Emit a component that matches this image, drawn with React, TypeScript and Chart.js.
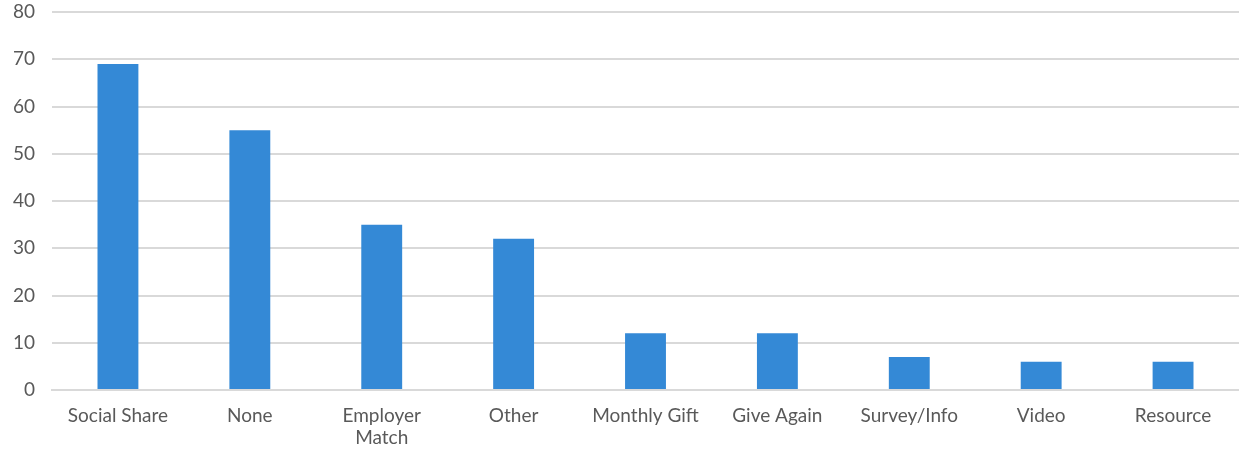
import React, { useEffect, useRef } from "react";
import { Chart, registerables } from "chart.js";

Chart.register(...registerables);

const categories: (string | string[])[] = [
  "Social Share",
  "None",
  ["Employer", "Match"],
  "Other",
  "Monthly Gift",
  "Give Again",
  "Survey/Info",
  "Video",
  "Resource",
];
const values = [69, 55, 35, 32, 12, 12, 7, 6, 6];
const yMin = 0;
const yMax = 80;
const yStep = 10;

export default function App() {
  const ref = useRef<HTMLCanvasElement | null>(null);
  useEffect(() => {
    if (!ref.current) return;
    const chart = new Chart(ref.current, {
      type: "bar",
      data: {
        labels: categories,
        datasets: [
          {
            data: values,
            backgroundColor: "#3489D6",
            borderWidth: 0,
            barPercentage: 0.62,
            categoryPercentage: 0.5,
          },
        ],
      },
      options: {
        responsive: false,
        animation: false,
        maintainAspectRatio: false,
        layout: { padding: { top: 12, right: 0, left: 0, bottom: 0 } },
        plugins: { legend: { display: false }, tooltip: { enabled: false } },
        scales: {
          x: {
            grid: { display: false, drawTicks: false },
            border: { display: true, color: "#d9d9d9", width: 2 },
            ticks: {
              color: "#595959",
              font: { family: "Lato", size: 19 },
              padding: 14,
              maxRotation: 0,
              autoSkip: false,
            },
            afterFit: (s: any) => {
              s.height = 59;
            },
          },
          y: {
            min: yMin,
            max: yMax,
            grid: { color: "#d9d9d9", lineWidth: 2, drawTicks: false },
            border: { display: false },
            ticks: {
              stepSize: yStep,
              color: "#595959",
              font: { family: "Lato", size: 19 },
              padding: 17,
            },
            afterFit: (s: any) => {
              s.width = 52;
              s.paddingTop = 0;
              s.paddingBottom = 0;
            },
          },
        },
      },
    });
    return () => chart.destroy();
  }, []);
  return (
    <div style={{ position: "fixed", left: 0, top: 0, width: 1239, height: 449, background: "#fff" }}>
      <canvas ref={ref} width={1239} height={449} style={{ width: 1239, height: 449 }} />
    </div>
  );
}
